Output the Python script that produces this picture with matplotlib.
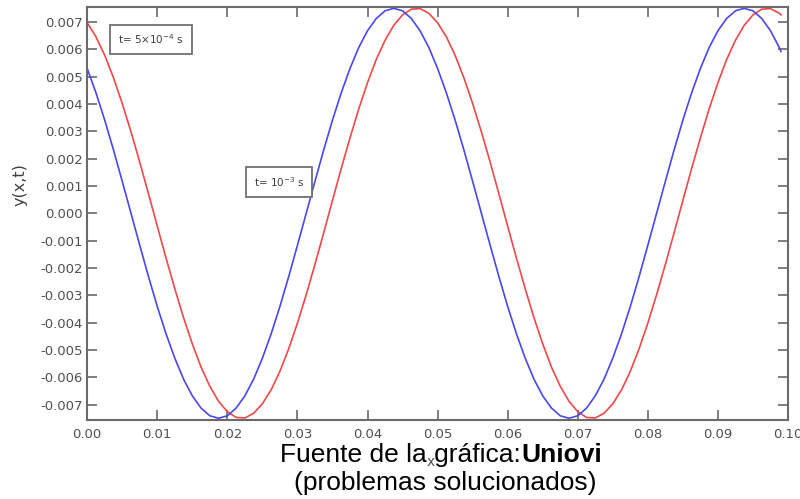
import numpy as np
import matplotlib.pyplot as plt

# sample positions along x (m)
x_vals = np.append(np.linspace(0.0, 0.09875, 80), 0.099)

# t = 1e-3 s (blue)
y_blue = [
    0.00530, 0.00441, 0.00341, 0.00232, 0.00117, 0.0, -0.00117, -0.00232,
    -0.00341, -0.00441, -0.00530, -0.00607, -0.00668, -0.00713, -0.00741, -0.00750,
    -0.00741, -0.00713, -0.00668, -0.00607, -0.00530, -0.00441, -0.00341, -0.00232,
    -0.00117, 0.0, 0.00117, 0.00232, 0.00341, 0.00441, 0.00530, 0.00607,
    0.00668, 0.00713, 0.00741, 0.00750, 0.00741, 0.00713, 0.00668, 0.00607,
    0.00530, 0.00441, 0.00341, 0.00232, 0.00117, 0.0, -0.00117, -0.00232,
    -0.00341, -0.00441, -0.00530, -0.00607, -0.00668, -0.00713, -0.00741, -0.00750,
    -0.00741, -0.00713, -0.00668, -0.00607, -0.00530, -0.00441, -0.00341, -0.00232,
    -0.00117, 0.0, 0.00117, 0.00232, 0.00341, 0.00441, 0.00530, 0.00607,
    0.00668, 0.00713, 0.00741, 0.00750, 0.00741, 0.00713, 0.00668, 0.00607,
    0.00592,
]

# t = 5e-4 s (red)
y_red = [
    0.00697, 0.00646, 0.00578, 0.00496, 0.00402, 0.00298, 0.00187, 0.00071,
    -0.00047, -0.00164, -0.00276, -0.00382, -0.00478, -0.00563, -0.00633, -0.00688,
    -0.00726, -0.00747, -0.00749, -0.00732, -0.00697, -0.00646, -0.00578, -0.00496,
    -0.00402, -0.00298, -0.00187, -0.00071, 0.00047, 0.00164, 0.00276, 0.00382,
    0.00478, 0.00563, 0.00633, 0.00688, 0.00726, 0.00747, 0.00749, 0.00732,
    0.00697, 0.00646, 0.00578, 0.00496, 0.00402, 0.00298, 0.00187, 0.00071,
    -0.00047, -0.00164, -0.00276, -0.00382, -0.00478, -0.00563, -0.00633, -0.00688,
    -0.00726, -0.00747, -0.00749, -0.00732, -0.00697, -0.00646, -0.00578, -0.00496,
    -0.00402, -0.00298, -0.00187, -0.00071, 0.00047, 0.00164, 0.00276, 0.00382,
    0.00478, 0.00563, 0.00633, 0.00688, 0.00726, 0.00747, 0.00749, 0.00732,
    0.00726,
]

x_ticks = [0.00, 0.01, 0.02, 0.03, 0.04, 0.05, 0.06, 0.07, 0.08, 0.09, 0.10]
y_ticks = [0.007, 0.006, 0.005, 0.004, 0.003, 0.002, 0.001, 0.0,
           -0.001, -0.002, -0.003, -0.004, -0.005, -0.006, -0.007]

fig = plt.figure(figsize=(8, 4.99), dpi=100)
ax = fig.add_axes([0.109, 0.158, 0.876, 0.828])

ax.plot(x_vals, y_red, color='#f04848', lw=1.2)
ax.plot(x_vals, y_blue, color='#4848f0', lw=1.2)

ax.set_xlim(0, 0.1)
ax.set_ylim(-0.00757, 0.00755)
ax.set_xticks(x_ticks)
ax.set_xticklabels([f"{v:.2f}" for v in x_ticks])
ax.set_yticks(y_ticks)
ax.set_yticklabels([f"{v:.3f}" for v in y_ticks])

for s in ax.spines.values():
    s.set_color('#6a6a6a')
    s.set_linewidth(1.5)
ax.tick_params(direction='in', length=7, width=1.2, color='#6a6a6a',
               top=True, right=True, labelsize=9.5, labelcolor='#505050')
ax.tick_params(axis='x', pad=6)
ax.tick_params(axis='y', pad=3)

box = dict(boxstyle='square,pad=0.75', fc='white', ec='#707070', lw=1.3)
ax.text(0.0044, 0.00637, r"t= 5$\times$10$^{-4}$ s", fontsize=7.5, color='#404040',
        bbox=box, va='center')
ax.text(0.0238, 0.00115, r"t= 10$^{-3}$ s", fontsize=7.5, color='#404040',
        bbox=box, va='center')

fig.text(20 / 800, 1 - 185 / 499, "y(x,t)", rotation=90, ha='center', va='center',
         fontsize=11.5, color='#404040')
fig.text(431 / 800, 1 - 462 / 499, "x", ha='center', va='center',
         fontsize=10, color='#505050')

fig.text(521 / 800, 1 - 462 / 499, "Fuente de la gráfica:", ha='right', va='baseline',
         fontsize=19, family='Liberation Sans', color='black')
fig.text(521 / 800, 1 - 462 / 499, "Uniovi", ha='left', va='baseline',
         fontsize=19, family='Liberation Sans', weight='bold', color='black')
fig.text(445 / 800, 1 - 490 / 499, "(problemas solucionados)", ha='center', va='baseline',
         fontsize=19, family='Liberation Sans', color='black')

fig.savefig('out.png', dpi=100)
